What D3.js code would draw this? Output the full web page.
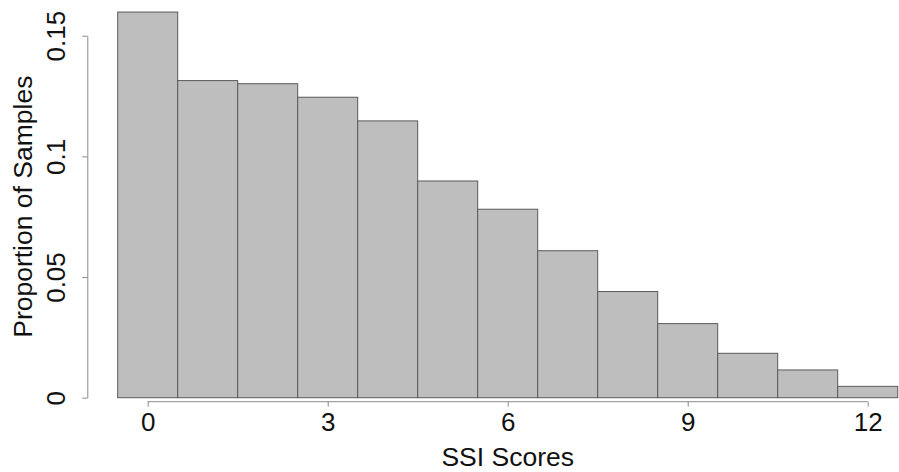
<!DOCTYPE html>
<meta charset="utf-8">
<html>
<head>
<style>
body { margin: 0; background: #fff; }
text { font-family: "Liberation Sans", Arial, Helvetica, sans-serif; fill: #111; }
.bar { fill: #bebebe; stroke: #5a5a5a; stroke-width: 1px; }
.axis line, .axis path { stroke: #8a8a8a; stroke-width: 1px; }
</style>
</head>
<body>
<svg width="899" height="472"></svg>
<script src="https://cdnjs.cloudflare.com/ajax/libs/d3/7.8.5/d3.min.js"></script>
<script>

// SSI score bins and proportion of samples in each
var scores = [0, 1, 2, 3, 4, 5, 6, 7, 8, 9, 10, 11, 12];
var proportions = [0.1598, 0.1314, 0.1301, 0.1245, 0.1147, 0.0898, 0.0781,
                   0.0609, 0.0440, 0.0307, 0.0184, 0.0115, 0.0047];
var xTicks = [0, 3, 6, 9, 12];
var yTicks = [0, 0.05, 0.1, 0.15];
var yTickLabels = ["0", "0.05", "0.1", "0.15"];

var svg = d3.select("svg");

var x = d3.scaleLinear().domain([-0.5, 12.5]).range([117.7, 897.7]);
var y = d3.scaleLinear().domain([0, 0.15]).range([397.7, 35.7]);

// bars
svg.selectAll(".bar")
    .data(scores)
  .enter().append("rect")
    .attr("class", "bar")
    .attr("x", function(d) { return x(d - 0.5); })
    .attr("width", function(d) { return x(d + 0.5) - x(d - 0.5); })
    .attr("y", function(d, i) { return y(proportions[i]); })
    .attr("height", function(d, i) { return y(0) - y(proportions[i]); });

// y axis (R style, rotated labels)
var yAxis = svg.append("g")
    .attr("class", "axis")
    .attr("transform", "translate(87.3,0)")
    .call(d3.axisLeft(y).tickValues(yTicks)
        .tickFormat(function(d, i) { return yTickLabels[i]; })
        .tickSize(5).tickSizeOuter(0));

yAxis.selectAll("text")
    .attr("x", null).attr("dy", null)
    .style("font-size", "26px")
    .style("text-anchor", "middle")
    .attr("transform", "translate(-22.3,0) rotate(-90)");

// x axis, line only between first and last tick
var xAxis = svg.append("g")
    .attr("class", "axis")
    .attr("transform", "translate(0,401.7)")
    .call(d3.axisBottom(x).tickValues(xTicks).tickSize(5).tickSizeOuter(0));

xAxis.select(".domain").remove();
xAxis.append("line")
    .attr("x1", x(xTicks[0])).attr("x2", x(xTicks[xTicks.length - 1]))
    .attr("y1", 0).attr("y2", 0);

xAxis.selectAll("text")
    .attr("y", 29.5).attr("dy", null)
    .style("font-size", "26px");

svg.selectAll(".axis text").attr("fill", "#111");

// axis titles
svg.append("text")
    .attr("transform", "translate(32,206.7) rotate(-90)")
    .style("text-anchor", "middle")
    .style("font-size", "26.5px")
    .text("Proportion of Samples");

svg.append("text")
    .attr("x", x(6))
    .attr("y", 466)
    .style("text-anchor", "middle")
    .style("font-size", "26.5px")
    .text("SSI Scores");

</script>
</body>
</html>
